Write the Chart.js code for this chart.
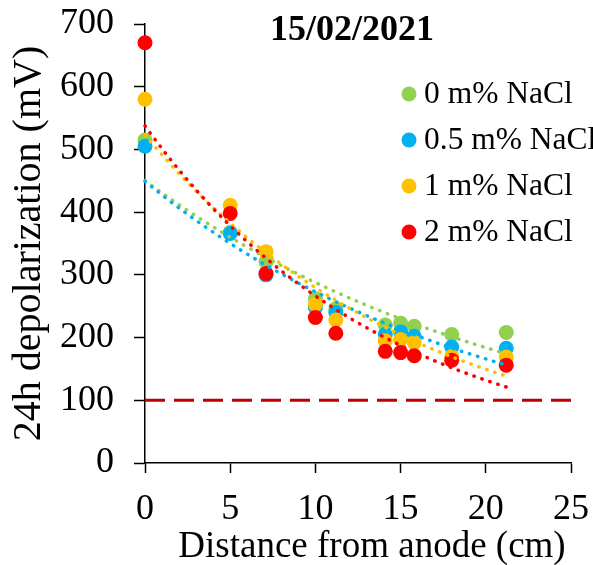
<!DOCTYPE html>
<html>
<head>
<meta charset="utf-8">
<script src="https://cdn.jsdelivr.net/npm/chart.js@4.4.1/dist/chart.umd.min.js"></script>
<style>
  html, body { margin: 0; padding: 0; background: #fff; }
  #wrap { width: 593px; height: 565px; }
</style>
</head>
<body>
<div id="wrap"><canvas id="chart" width="593" height="565"></canvas></div>
<script>
// distance from anode (cm)
const distances = [0, 5, 7.1, 10, 11.2, 14.1, 15, 15.8, 18, 21.2];

// 24h depolarization (mV) per NaCl content
const nacl0  = [515, 368, 321, 262, 246, 220, 223, 218, 205, 208];
const nacl05 = [505, 366, 300, 248, 240, 205, 209, 202, 185, 183];
const nacl1  = [580, 411, 337, 253, 228, 195, 197, 192, 170, 169];
const nacl2  = [670, 398, 302, 232, 207, 178, 176, 171, 164, 156];

const seriesNames = ["0 m% NaCl", "0.5 m% NaCl", "1 m% NaCl", "2 m% NaCl"];
const seriesColors = ["#92D050", "#00B0F0", "#FFC000", "#FF0000"];

const limitValue = 100;          // 100 mV criterion
const xTicks = [0, 5, 10, 15, 20, 25];
const yTicks = [0, 100, 200, 300, 400, 500, 600, 700];
const chartTitle = "15/02/2021";
const xTitle = "Distance from anode (cm)";
const yTitle = "24h depolarization (mV)";

const FONT = "'Liberation Serif', 'Times New Roman', serif";

const toPoints = (ys) => distances.map((x, i) => ({ x: x, y: ys[i] }));

// exponential least-squares trendline, y = a*exp(b*x) (like Excel's)
function expTrend(ys) {
  const n = distances.length;
  const lx = distances, ly = ys.map(Math.log);
  const mx = lx.reduce((s, v) => s + v, 0) / n;
  const my = ly.reduce((s, v) => s + v, 0) / n;
  let sxy = 0, sxx = 0;
  for (let i = 0; i < n; i++) {
    sxy += (lx[i] - mx) * (ly[i] - my);
    sxx += (lx[i] - mx) * (lx[i] - mx);
  }
  const b = sxy / sxx, a = Math.exp(my - b * mx);
  const xmax = Math.max(...distances);
  const pts = [];
  for (let x = 0; x < xmax; x += 0.25) pts.push({ x: x, y: a * Math.exp(b * x) });
  pts.push({ x: xmax, y: a * Math.exp(b * xmax) });
  return pts;
}

const allSeries = [nacl0, nacl05, nacl1, nacl2];

const markerSets = allSeries.map((ys, i) => ({
  type: "scatter",
  label: seriesNames[i],
  data: toPoints(ys),
  backgroundColor: seriesColors[i],
  borderWidth: 0,
  pointRadius: 7.5,
  pointHoverRadius: 7.5,
  clip: false,
  order: 9 - i
}));

const trendSets = allSeries.map((ys, i) => ({
  type: "line",
  label: seriesNames[i] + " trend",
  data: expTrend(ys),
  borderColor: seriesColors[i],
  borderWidth: 3.5,
  borderDash: [0.5, 7.9],
  borderCapStyle: "round",
  pointRadius: 0,
  fill: false,
  tension: 0,
  clip: false,
  order: 4 - i
}));

const limitSet = {
  type: "line",
  label: "limit",
  data: [{ x: xTicks[0], y: limitValue }, { x: xTicks[xTicks.length - 1], y: limitValue }],
  borderColor: "#C00000",
  borderWidth: 3,
  borderDash: [20, 9],
  pointRadius: 0,
  fill: false,
  clip: false,
  order: 20
};

// title, x-axis title and legend drawn by hand
const overlay = {
  id: "overlay",
  afterDraw(chart) {
    const ctx = chart.ctx;
    ctx.save();
    ctx.fillStyle = "#000";
    ctx.textBaseline = "middle";
    ctx.textAlign = "center";
    ctx.font = "bold 36px " + FONT;
    ctx.fillText(chartTitle, 352, 31);

    ctx.font = "37px " + FONT;
    ctx.fillText(xTitle, 372, 547);

    ctx.font = "31.5px " + FONT;
    ctx.textAlign = "left";
    seriesNames.forEach((name, i) => {
      const y = 94 + i * 46;
      ctx.beginPath();
      ctx.fillStyle = seriesColors[i];
      ctx.arc(409, y, 7.5, 0, Math.PI * 2);
      ctx.fill();
      ctx.fillStyle = "#000";
      ctx.fillText(name, 424, y + 1);
    });
    ctx.restore();
  }
};

new Chart(document.getElementById("chart"), {
  data: { datasets: [...markerSets, ...trendSets, limitSet] },
  options: {
    responsive: false,
    animation: false,
    layout: { padding: { left: 0, top: 24, right: 22, bottom: 0 } },
    plugins: { legend: { display: false }, title: { display: false }, tooltip: { enabled: false } },
    scales: {
      x: {
        type: "linear",
        min: 0, max: 25,
        afterBuildTicks: (s) => { s.ticks = xTicks.map(v => ({ value: v })); },
        afterFit: (s) => { s.height = 102; },
        grid: { drawOnChartArea: false, drawTicks: true, tickLength: 10, color: "#000", tickWidth: 1.5 },
        border: { display: true, color: "#000", width: 1.5 },
        ticks: { color: "#000", font: { family: FONT, size: 36, lineHeight: 2.05 }, padding: 0, maxRotation: 0 },
        title: { display: false }
      },
      y: {
        type: "linear",
        min: 0, max: 700,
        afterBuildTicks: (s) => { s.ticks = yTicks.map(v => ({ value: v })); },
        afterFit: (s) => { s.width = 145; s.paddingTop = 0; s.paddingBottom = 0; },
        grid: { drawOnChartArea: false, drawTicks: true, tickLength: 11, color: "#000", tickWidth: 1.5 },
        border: { display: true, color: "#000", width: 1.5 },
        ticks: { color: "#000", font: { family: FONT, size: 36 }, padding: 20 },
        title: {
          display: true, text: yTitle, color: "#000",
          font: { family: FONT, size: 40, lineHeight: 1 }, padding: { top: 9, bottom: 0 }
        }
      }
    }
  },
  plugins: [overlay]
});
</script>
</body>
</html>
